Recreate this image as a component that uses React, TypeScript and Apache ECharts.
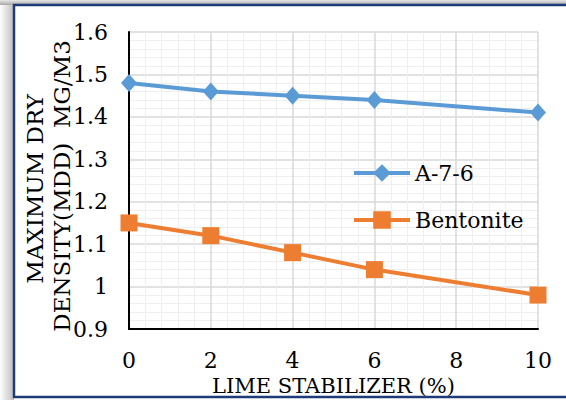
import React, { useEffect, useRef } from "react";
import * as echarts from "echarts";

const limePercent = [0, 2, 4, 6, 10];
const a76Values = [1.48, 1.46, 1.45, 1.44, 1.41];
const bentoniteValues = [1.15, 1.12, 1.08, 1.04, 0.98];
const seriesNames = ["A-7-6", "Bentonite"];
const xTitle = "LIME STABILIZER (%)";
const yTitleLine1 = "MAXIMUM DRY";
const yTitleLine2 = "DENSITY(MDD)  MG/M3";

const FONT = "DejaVu Serif";

export default function App() {
  const ref = useRef<HTMLDivElement>(null);
  useEffect(() => {
    if (!ref.current) return;
    const chart = echarts.init(ref.current, undefined, { renderer: "svg" });
    const pairs = (vals: number[]) => limePercent.map((x, i) => [x, vals[i]]);
    chart.setOption({
      animation: false,
      backgroundColor: "#ffffff",
      graphic: [
        {
          type: "rect",
          z: -10,
          shape: { x: 0, y: 0, width: 14, height: 400 },
          style: {
            fill: new echarts.graphic.LinearGradient(0, 0, 1, 0, [
              { offset: 0, color: "#ffffff" },
              { offset: 1, color: "#bdbdbd" },
            ]),
          },
          silent: true,
        },
        {
          type: "rect",
          z: -10,
          shape: { x: 0, y: 0, width: 566, height: 5 },
          style: {
            fill: new echarts.graphic.LinearGradient(0, 0, 0, 1, [
              { offset: 0, color: "#e6e6e6" },
              { offset: 1, color: "#a8a8a8" },
            ]),
          },
          silent: true,
        },
        {
          type: "rect",
          z: -9,
          shape: { x: 14, y: 5, width: 570, height: 392 },
          style: { fill: "#ffffff", stroke: "#1f3a78", lineWidth: 2.5 },
          silent: true,
        },
        {
          type: "text",
          x: 35,
          y: 189,
          rotation: Math.PI / 2,
          style: {
            text: yTitleLine1,
            font: `23px "${FONT}"`,
            fill: "#000000",
            align: "center",
            verticalAlign: "middle",
          },
        },
        {
          type: "text",
          x: 62,
          y: 186,
          rotation: Math.PI / 2,
          style: {
            text: yTitleLine2,
            font: `23px "${FONT}"`,
            fill: "#000000",
            align: "center",
            verticalAlign: "middle",
          },
        },
      ],
      grid: {
        left: 129,
        top: 32,
        right: 28,
        bottom: 71,
        containLabel: false,
        outerBoundsMode: "none",
      },
      legend: {
        data: seriesNames,
        orient: "vertical",
        left: 347,
        top: 157,
        itemWidth: 56,
        itemHeight: 22,
        itemGap: 25,
        lineStyle: { width: 4 },
        textStyle: { fontFamily: FONT, fontSize: 22, color: "#000000" },
      },
      xAxis: {
        type: "value",
        min: 0,
        max: 10,
        interval: 2,
        name: xTitle,
        nameLocation: "middle",
        nameGap: 42,
        nameTextStyle: { fontFamily: FONT, fontSize: 21, color: "#000000" },
        axisLine: { show: true, lineStyle: { color: "#000000", width: 2 } },
        axisTick: { show: false },
        axisLabel: { fontFamily: FONT, fontSize: 22, color: "#000000", margin: 20 },
        splitLine: { show: true, lineStyle: { color: "#d9d9d9", width: 1.5 } },
        minorTick: { show: false, splitNumber: 5 },
        minorSplitLine: { show: true, lineStyle: { color: "#efefef", width: 1 } },
      },
      yAxis: {
        type: "value",
        min: 0.9,
        max: 1.6,
        interval: 0.1,
        axisLine: { show: true, lineStyle: { color: "#000000", width: 2 } },
        axisTick: { show: false },
        axisLabel: { fontFamily: FONT, fontSize: 22, color: "#000000", margin: 21 },
        splitLine: { show: true, lineStyle: { color: "#d9d9d9", width: 1.5 } },
        minorTick: { show: false, splitNumber: 5 },
        minorSplitLine: { show: true, lineStyle: { color: "#efefef", width: 1 } },
      },
      series: [
        {
          name: seriesNames[0],
          type: "line",
          data: pairs(a76Values),
          symbol: "diamond",
          symbolSize: [16, 18],
          lineStyle: { color: "#5b9bd5", width: 4 },
          itemStyle: { color: "#5b9bd5" },
          z: 3,
        },
        {
          name: seriesNames[1],
          type: "line",
          data: pairs(bentoniteValues),
          symbol: "rect",
          symbolSize: 17,
          lineStyle: { color: "#ed7d31", width: 4 },
          itemStyle: { color: "#ed7d31" },
          z: 3,
        },
      ],
    });
    return () => chart.dispose();
  }, []);
  return (
    <div
      ref={ref}
      style={{ position: "absolute", left: 0, top: 0, width: 566, height: 400 }}
    />
  );
}
